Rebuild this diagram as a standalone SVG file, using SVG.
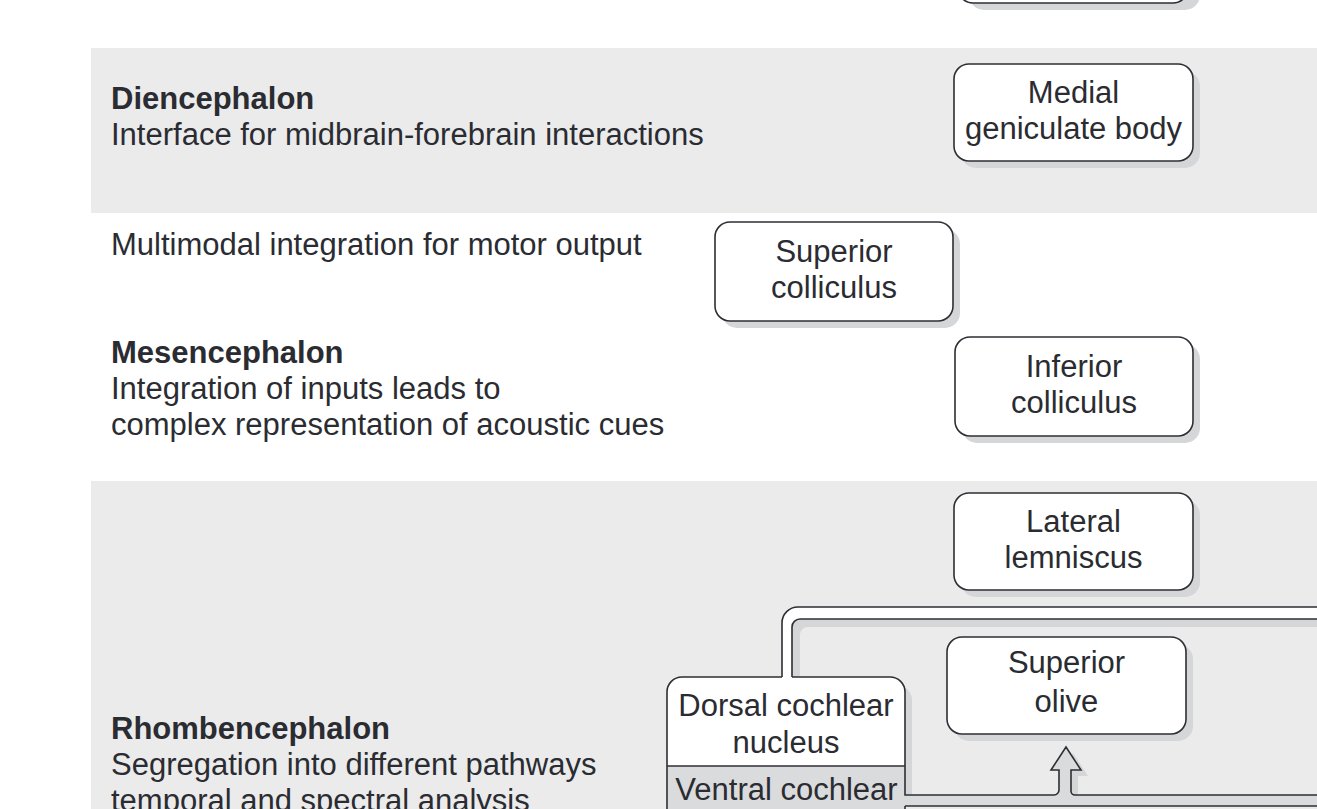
<svg xmlns="http://www.w3.org/2000/svg" width="1317" height="809" viewBox="0 0 1317 809">
<style>
.bg{fill:#ffffff}
.band{fill:#ebebeb}
.sh{fill:#d5d6d8}
.box{fill:#ffffff;stroke:#2e2f34;stroke-width:1.6}
.ln{fill:none;stroke:#2e2f34;stroke-width:1.6}
.vf{fill:#dadbdd}
.t{font-family:"Liberation Sans",Arial,Helvetica,sans-serif;font-size:31px;fill:#2a2c32}
.b{font-weight:bold}
.c{text-anchor:middle}
</style>
<rect class="bg" x="0" y="0" width="1317" height="809"/>
<g id="bands">
<rect class="band" x="91" y="48" width="1226" height="165"/>
<rect class="band" x="91" y="481" width="1226" height="328"/>
</g>
<g id="labels">
<text class="t b" x="111" y="109">Diencephalon</text>
<text class="t" x="111" y="145">Interface for midbrain-forebrain interactions</text>
<text class="t" x="111" y="255">Multimodal integration for motor output</text>
<text class="t b" x="111" y="363">Mesencephalon</text>
<text class="t" x="111" y="399">Integration of inputs leads to</text>
<text class="t" x="111" y="435">complex representation of acoustic cues</text>
<text class="t b" x="111" y="739">Rhombencephalon</text>
<text class="t" x="111" y="775">Segregation into different pathways</text>
<text class="t" x="111" y="811">temporal and spectral analysis</text>
</g>
<g id="node-top">
<rect class="sh" x="969" y="-60" width="231" height="70" rx="15"/>
<rect class="box" x="958" y="-67" width="230" height="70" rx="15"/>
</g>
<g id="node-medial-geniculate">
<rect class="sh" x="961" y="71" width="239" height="97" rx="15"/>
<rect class="box" x="954" y="64" width="239" height="97" rx="15"/>
<text class="t c" x="1073.5" y="102.7">Medial</text>
<text class="t c" x="1073.5" y="138.5">geniculate body</text>
</g>
<g id="node-superior-colliculus">
<rect class="sh" x="722" y="229" width="238" height="99" rx="15"/>
<rect class="box" x="715" y="222" width="238" height="99" rx="15"/>
<text class="t c" x="834" y="261.7">Superior</text>
<text class="t c" x="834" y="297.7">colliculus</text>
</g>
<g id="node-inferior-colliculus">
<rect class="sh" x="962" y="344" width="238" height="99" rx="15"/>
<rect class="box" x="955" y="337" width="238" height="99" rx="15"/>
<text class="t c" x="1074" y="376.7">Inferior</text>
<text class="t c" x="1074" y="412.7">colliculus</text>
</g>
<g id="node-lateral-lemniscus">
<rect class="sh" x="961" y="500" width="239" height="97" rx="15"/>
<rect class="box" x="954" y="493" width="239" height="97" rx="15"/>
<text class="t c" x="1073.5" y="531.7">Lateral</text>
<text class="t c" x="1073.5" y="568">lemniscus</text>
</g>
<g id="node-superior-olive">
<rect class="sh" x="954" y="644" width="239" height="97" rx="15"/>
<rect class="box" x="947" y="637" width="239" height="97" rx="15"/>
<text class="t c" x="1066.5" y="673">Superior</text>
<text class="t c" x="1066.5" y="711.5">olive</text>
</g>
<g id="connectors">
<path class="sh" d="M790,686 V631 A16,16 0 0 1 806,615 H1320 V627 H808 A8,8 0 0 0 800,635 V686 Z"/>
<path fill="#ffffff" d="M782,678 V623 A16,16 0 0 1 798,607 H1320 V619 H800 A8,8 0 0 0 792,627 V678 Z"/>
<path class="ln" d="M782,678 V623 A16,16 0 0 1 798,607 H1320"/>
<path class="ln" d="M792,678 V627 A8,8 0 0 1 800,619 H1320"/>
<path class="sh" d="M1058,776 L1073,753 L1088,776 H1078 V800 H1066 Z"/>
<path class="vf" d="M904,795 H1054 A5,5 0 0 0 1059,790 V770 H1051 L1066,747 L1081,770 H1071 V791 A4,4 0 0 0 1075,795 H1320 V806 H904 Z"/>
<path class="ln" d="M1054,795 A5,5 0 0 0 1059,790 V770 H1051 L1066,747 L1081,770 H1071 V791 A4,4 0 0 0 1075,795 H1320"/>
<path class="ln" d="M905,806 H1320"/>
</g>
<g id="node-dorsal-cochlear-nucleus">
<path class="sh" d="M674,817 V700 A15,15 0 0 1 689,685 H897 A15,15 0 0 1 912,700 V795 H905 V817 Z"/>
<path fill="#ffffff" d="M667,766 V692 A15,15 0 0 1 682,677 H890 A15,15 0 0 1 905,692 V766 Z"/>
<path class="ln" d="M667,766 V692 A15,15 0 0 1 682,677 H782"/>
<path class="ln" d="M792,677 H890 A15,15 0 0 1 905,692 V766"/>
<text class="t c" x="786" y="716">Dorsal cochlear</text>
<text class="t c" x="786" y="752.7">nucleus</text>
</g>
<g id="node-ventral-cochlear-nucleus">
<rect class="vf" x="667" y="766" width="238" height="50"/>
<path class="ln" d="M667,766 H905"/>
<path class="ln" d="M667,766 V815"/>
<path class="ln" d="M905,766 V795 H1054"/>
<path class="ln" d="M905,806 V815"/>
<text class="t c" x="786.5" y="800">Ventral cochlear</text>
</g>
</svg>
